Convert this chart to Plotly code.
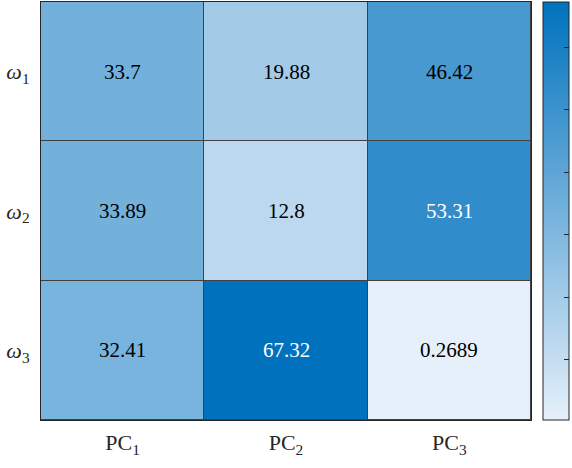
import plotly.graph_objects as go

# Heatmap data: rows are classes, columns are principal components
row_labels = ["<i>ω</i><sub>1</sub>", "<i>ω</i><sub>2</sub>", "<i>ω</i><sub>3</sub>"]
col_labels = ["PC<sub>1</sub>", "PC<sub>2</sub>", "PC<sub>3</sub>"]
row_1 = [33.7, 19.88, 46.42]
row_2 = [33.89, 12.8, 53.31]
row_3 = [32.41, 67.32, 0.2689]
values = [row_1, row_2, row_3]
colorbar_ticks = [10, 20, 30, 40, 50, 60]

font_family = "Liberation Serif, Times New Roman, serif"

fig = go.Figure(
    go.Heatmap(
        z=values,
        x=col_labels,
        y=row_labels,
        colorscale=[[0, "rgb(230,240,250)"], [1, "rgb(0,114,189)"]],
        xgap=1,
        ygap=1,
        showscale=True,
        colorbar=dict(
            x=1.0245,
            xanchor="left",
            y=0.5,
            yanchor="middle",
            len=1.0,
            lenmode="fraction",
            thickness=26,
            thicknessmode="pixels",
            outlinecolor="#262626",
            outlinewidth=1,
            ticks="inside",
            ticklen=5,
            tickcolor="#262626",
            tickvals=colorbar_ticks,
            showticklabels=False,
            xpad=0,
            ypad=0,
        ),
        hoverinfo="skip",
    )
)

# Value labels in each cell
vmin = min(min(r) for r in values)
vmax = max(max(r) for r in values)
for i, row in enumerate(values):
    for j, v in enumerate(row):
        frac = (v - vmin) / (vmax - vmin)
        fig.add_annotation(
            x=col_labels[j],
            y=row_labels[i],
            text=f"{v:.4g}",
            showarrow=False,
            font=dict(family=font_family, size=21,
                      color="white" if frac > 0.75 else "black"),
        )

fig.update_layout(
    width=572,
    height=468,
    margin=dict(l=41, r=41, t=2, b=48, autoexpand=False),
    paper_bgcolor="white",
    plot_bgcolor="#404040",
    font=dict(family=font_family, size=21, color="#262626"),
    xaxis=dict(
        showgrid=False, zeroline=False, ticks="",
        showline=True, linecolor="#262626", linewidth=1, mirror=True,
        ticklabelstandoff=3,
        tickfont=dict(family=font_family, size=22, color="#262626"),
    ),
    yaxis=dict(
        autorange="reversed",
        showgrid=False, zeroline=False, ticks="", ticklen=0,
        showline=True, linecolor="#262626", linewidth=1, mirror=True,
        ticklabelstandoff=6,
        tickfont=dict(family=font_family, size=22, color="#262626"),
    ),
)

fig.write_html("out.html")
